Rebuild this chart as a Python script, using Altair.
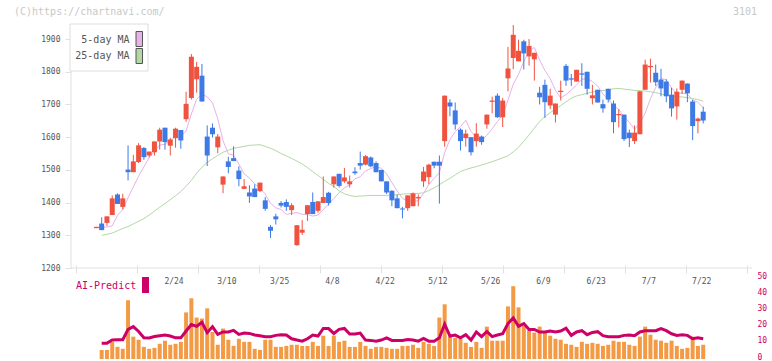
import altair as alt
import pandas as pd

# ---- daily candles (oldest first) ----
opens = [1322, 1336, 1338, 1362, 1425, 1387, 1501, 1493, 1524, 1567,
         1544, 1554, 1587, 1629, 1574, 1597, 1622, 1655, 1720, 1777,
         1788, 1602, 1629, 1569, 1455, 1526, 1536, 1498, 1442, 1431,
         1443, 1435, 1407, 1326, 1358, 1399, 1402, 1377, 1270, 1308,
         1365, 1402, 1375, 1399, 1430, 1456, 1488, 1465, 1456, 1495,
         1521, 1516, 1538, 1521, 1500, 1465, 1436, 1413, 1382, 1383,
         1389, 1413, 1465, 1478, 1525, 1525, 1588, 1706, 1682, 1623,
         1597, 1600, 1588, 1602, 1639, 1708, 1727, 1661, 1780, 1842,
         1832, 1893, 1847, 1838, 1736, 1760, 1697, 1669, 1738, 1818,
         1780, 1770, 1795, 1800, 1719, 1745, 1701, 1748, 1703, 1667,
         1669, 1614, 1588, 1609, 1745, 1814, 1797, 1776, 1770, 1730,
         1694, 1745, 1764, 1709, 1649, 1678]

highs = [1326, 1355, 1358, 1422, 1428, 1427, 1575, 1546, 1582, 1570,
         1556, 1587, 1629, 1629, 1598, 1629, 1622, 1739, 1854, 1830,
         1824, 1636, 1642, 1610, 1480, 1540, 1572, 1511, 1472, 1453,
         1456, 1461, 1417, 1331, 1366, 1405, 1410, 1398, 1331, 1347,
         1392, 1431, 1404, 1480, 1433, 1480, 1488, 1506, 1483, 1508,
         1556, 1545, 1541, 1526, 1500, 1465, 1438, 1425, 1387, 1422,
         1431, 1425, 1509, 1519, 1525, 1544, 1727, 1716, 1706, 1627,
         1623, 1600, 1643, 1605, 1669, 1724, 1734, 1720, 1876, 1943,
         1898, 1898, 1900, 1858, 1754, 1776, 1748, 1703, 1773, 1824,
         1793, 1806, 1826, 1800, 1760, 1745, 1715, 1748, 1712, 1686,
         1669, 1623, 1636, 1742, 1837, 1840, 1822, 1809, 1777, 1751,
         1749, 1773, 1764, 1714, 1660, 1693]

lows = [1322, 1316, 1329, 1362, 1396, 1379, 1468, 1493, 1521, 1531,
        1538, 1544, 1562, 1562, 1544, 1568, 1565, 1647, 1715, 1736,
        1709, 1512, 1599, 1551, 1429, 1490, 1527, 1450, 1442, 1399,
        1417, 1432, 1375, 1292, 1333, 1385, 1375, 1362, 1268, 1301,
        1344, 1365, 1369, 1399, 1391, 1446, 1446, 1460, 1446, 1485,
        1501, 1514, 1508, 1493, 1465, 1426, 1389, 1383, 1352, 1375,
        1389, 1389, 1448, 1456, 1505, 1397, 1571, 1664, 1623, 1559,
        1571, 1544, 1571, 1577, 1626, 1673, 1659, 1631, 1740, 1808,
        1832, 1807, 1819, 1773, 1700, 1659, 1686, 1645, 1712, 1757,
        1757, 1770, 1757, 1730, 1700, 1706, 1675, 1706, 1612, 1630,
        1588, 1570, 1579, 1609, 1745, 1767, 1757, 1725, 1707, 1663,
        1654, 1732, 1707, 1591, 1612, 1642]

closes = [1326, 1316, 1358, 1413, 1396, 1413, 1493, 1526, 1575, 1539,
          1556, 1587, 1623, 1585, 1593, 1626, 1590, 1702, 1846, 1815,
          1709, 1544, 1609, 1602, 1480, 1509, 1527, 1472, 1450, 1419,
          1417, 1461, 1381, 1314, 1349, 1391, 1387, 1392, 1331, 1317,
          1392, 1365, 1404, 1417, 1399, 1480, 1451, 1477, 1465, 1490,
          1513, 1542, 1511, 1493, 1465, 1431, 1407, 1383, 1379, 1422,
          1428, 1417, 1495, 1516, 1513, 1513, 1727, 1694, 1639, 1588,
          1611, 1554, 1611, 1585, 1669, 1712, 1661, 1712, 1810, 1913,
          1864, 1856, 1879, 1858, 1722, 1707, 1727, 1703, 1742, 1773,
          1776, 1806, 1791, 1748, 1728, 1706, 1688, 1715, 1646, 1671,
          1594, 1597, 1614, 1740, 1822, 1818, 1768, 1749, 1725, 1688,
          1739, 1773, 1734, 1634, 1657, 1651]

# ---- moving averages ----
ma5 = [1324, 1324, 1326, 1329, 1361, 1379, 1415, 1448, 1481, 1509,
       1538, 1557, 1576, 1578, 1589, 1603, 1603, 1619, 1671, 1716,
       1732, 1723, 1705, 1656, 1589, 1549, 1545, 1518, 1488, 1475,
       1457, 1444, 1426, 1398, 1384, 1379, 1364, 1367, 1370, 1364,
       1364, 1359, 1362, 1379, 1395, 1413, 1430, 1445, 1454, 1473,
       1479, 1497, 1504, 1510, 1505, 1488, 1461, 1436, 1413, 1405,
       1404, 1406, 1428, 1455, 1474, 1491, 1553, 1593, 1617, 1632,
       1652, 1617, 1601, 1590, 1606, 1626, 1648, 1668, 1713, 1762,
       1792, 1831, 1864, 1874, 1836, 1804, 1779, 1743, 1720, 1730,
       1744, 1760, 1777, 1779, 1770, 1756, 1732, 1717, 1697, 1685,
       1663, 1645, 1624, 1643, 1673, 1718, 1752, 1779, 1776, 1750,
       1734, 1735, 1732, 1714, 1707, 1690]

ma25 = [None, 1300, 1303, 1307, 1314, 1321, 1327, 1335, 1343, 1351,
        1362, 1374, 1386, 1397, 1409, 1421, 1434, 1450, 1468, 1490,
        1508, 1523, 1534, 1544, 1554, 1560, 1566, 1569, 1572, 1575,
        1576, 1577, 1572, 1566, 1559, 1550, 1543, 1535, 1527, 1518,
        1507, 1495, 1483, 1471, 1459, 1449, 1436, 1427, 1422, 1419,
        1420, 1421, 1422, 1422, 1422, 1422, 1423, 1424, 1426, 1427,
        1428, 1428, 1430, 1437, 1445, 1455, 1465, 1474, 1485, 1495,
        1501, 1506, 1510, 1515, 1520, 1525, 1531, 1537, 1543, 1555,
        1569, 1588, 1607, 1628, 1648, 1663, 1675, 1686, 1697, 1708,
        1719, 1726, 1730, 1734, 1738, 1741, 1743, 1745, 1748, 1749,
        1747, 1745, 1743, 1742, 1741, 1739, 1736, 1732, 1729, 1726,
        1724, 1723, 1721, 1718, 1715, 1710]

# ---- lower panel: volume bars and AI-Predict line ----
volume = [None, 5.6, 5.6, 10.6, 7.5, 6.3, 36.3, 13.8, 11.9, 7.5,
          6.3, 6.9, 9.4, 11.3, 8.8, 9.4, 10.6, 28.8, 37.5, 25.6,
          25.0, 31.3, 16.7, 8.8, 18.8, 11.9, 8.1, 12.5, 10.6, 10.6,
          6.3, 5.6, 11.9, 11.9, 7.5, 7.5, 8.1, 8.8, 8.8, 8.1,
          8.1, 10.6, 8.1, 14.4, 8.1, 14.4, 10.6, 11.3, 7.5, 7.5,
          10.6, 8.1, 6.3, 7.5, 7.5, 6.9, 6.3, 6.3, 8.1, 8.1,
          8.8, 6.9, 10.6, 9.4, 8.1, 25.6, 33.8, 13.8, 13.1, 12.5,
          10.0, 7.5, 10.6, 6.9, 20.0, 11.3, 11.3, 11.3, 32.5, 45.0,
          31.9, 20.6, 17.7, 16.3, 20.0, 16.3, 14.4, 12.5, 11.9, 9.4,
          8.8, 7.5, 10.6, 9.4, 10.0, 9.4, 8.1, 8.8, 11.3, 10.6,
          10.6, 8.8, 8.1, 13.8, 20.0, 15.0, 11.9, 11.3, 10.0, 11.3,
          8.1, 6.3, 6.9, 13.8, 8.1, 8.8]

ai_predict = [None, 9.8, 9.8, 11.7, 11.9, 11.9, 18.3, 20.0, 17.0, 13.1,
              13.0, 13.9, 14.4, 14.8, 14.2, 13.1, 13.1, 17.3, 21.3, 20.2,
              22.7, 16.3, 20.0, 15.2, 16.7, 16.7, 17.7, 15.2, 16.0, 15.8,
              14.8, 14.4, 13.8, 13.8, 14.6, 15.0, 14.8, 12.5, 11.7, 11.0,
              12.5, 14.8, 14.2, 18.9, 18.8, 15.8, 18.3, 18.9, 15.4, 15.4,
              16.0, 11.7, 11.5, 11.0, 11.7, 13.1, 11.5, 11.5, 11.5, 12.0,
              11.7, 11.0, 12.7, 11.0, 11.0, 13.1, 21.5, 14.2, 14.8, 13.1,
              15.0, 11.7, 16.7, 13.8, 17.0, 13.8, 14.8, 15.6, 21.9, 25.4,
              20.2, 21.9, 18.3, 18.3, 16.7, 16.7, 17.3, 16.7, 17.3, 19.0,
              14.6, 16.7, 17.5, 15.0, 16.4, 16.9, 14.4, 13.8, 13.8, 13.8,
              14.6, 14.8, 14.4, 16.7, 17.5, 17.5, 17.5, 18.8, 17.5, 15.6,
              14.6, 15.0, 14.6, 12.5, 13.1, 12.5]

# ---- axis labels ----
date_ticks = [15, 25, 35, 45, 55, 65, 75, 85, 95, 105, 115]
date_labels = ["2/24", "3/10", "3/25", "4/8", "4/22", "5/12",
               "5/26", "6/9", "6/23", "7/7", "7/22"]
price_ticks = [1200, 1300, 1400, 1500, 1600, 1700, 1800, 1900]
ai_ticks = [0, 10, 20, 30, 40, 50]

# ---- styling ----
UP = "#ef5340"
DOWN = "#3d7ae6"
MA5_COLOR = "#e6b2ea"
MA25_COLOR = "#b2d9a4"
BAR_COLOR = "#f39a45"
AI_COLOR = "#cc0066"
AXIS_GRAY = "#e0e0e0"
TEXT_GRAY = "#555555"
MONO = "DejaVu Sans Mono"

W, H = 681, 335
X_LO, X_HI = -3.866, 123.30
PRICE_DOMAIN = [922, 1946]
AI_DOMAIN = [0, 207]

df = pd.DataFrame({
    "idx": list(range(len(opens))),
    "open": opens, "high": highs, "low": lows, "close": closes,
    "ma5": ma5, "ma25": ma25, "volume": volume, "ai": ai_predict,
})
df["color"] = [UP if c >= o else DOWN for o, c in zip(opens, closes)]

# x ticks split the frame into 11 equal parts
grid_ticks = [X_LO + k * (X_HI - X_LO) / 11 for k in range(12)]

x_scale = alt.Scale(domain=[X_LO, X_HI], nice=False, zero=False)
x_axis = alt.Axis(values=grid_ticks, labels=False, domain=False, grid=False,
                  tickSize=8, tickColor=AXIS_GRAY, offset=-94, title=None)
px = alt.X("idx:Q", scale=x_scale, axis=x_axis)

price_scale = alt.Scale(domain=PRICE_DOMAIN, nice=False, zero=False)
price_axis = alt.Axis(values=price_ticks, orient="left", domain=False, grid=False,
                      format="d", tickSize=6, tickColor=AXIS_GRAY, labelFont=MONO,
                      labelFontSize=8, labelColor=TEXT_GRAY, labelPadding=5,
                      title=None)


def py(field):
    return alt.Y(f"{field}:Q", scale=price_scale, axis=price_axis)


ai_scale = alt.Scale(domain=AI_DOMAIN, nice=False, zero=True)
ai_axis = alt.Axis(values=ai_ticks, orient="right", domain=False, grid=False,
                   format="d", ticks=False, tickSize=0, labelFont=MONO,
                   labelFontSize=8, labelColor=AI_COLOR, labelPadding=5,
                   labelOffset=-2, title=None)


def ly(field):
    return alt.Y(f"{field}:Q", scale=ai_scale, axis=ai_axis)


base = alt.Chart(df)
frame = alt.Chart(pd.DataFrame({"lo": [1200], "hi": [1946]}))

# price panel
y_line = frame.mark_rule(color=AXIS_GRAY, strokeWidth=1).encode(
    x=alt.value(0), y=py("hi"), y2="lo")
x_line = frame.mark_rule(color=AXIS_GRAY, strokeWidth=1).encode(
    y=py("lo"), x=alt.value(0), x2=alt.value(W))
ma25_line = base.mark_line(color=MA25_COLOR, strokeWidth=1).encode(x=px, y=py("ma25"))
ma5_line = base.mark_line(color=MA5_COLOR, strokeWidth=1).encode(x=px, y=py("ma5"))
wicks = base.mark_rule(strokeWidth=1).encode(
    x=px, y=py("low"), y2="high", color=alt.Color("color:N", scale=None))
bodies = base.mark_bar(size=5).encode(
    x=px, y=py("open"), y2="close", color=alt.Color("color:N", scale=None))

price_panel = alt.layer(y_line, x_line, ma25_line, ma5_line, wicks, bodies)

# lower panel
vol_bars = base.mark_bar(size=4, color=BAR_COLOR).encode(x=px, y=ly("volume"))
ai_line = base.mark_line(color=AI_COLOR, strokeWidth=3).encode(x=px, y=ly("ai"))
lower_panel = alt.layer(vol_bars, ai_line)

# date labels between the panels
dates = alt.Chart(pd.DataFrame({"idx": date_ticks, "label": date_labels})).mark_text(
    font=MONO, fontSize=8, color=TEXT_GRAY, baseline="middle", dx=-1.5
).encode(x=px, y=alt.value(258), text="label:N")

one = alt.Chart(pd.DataFrame({"k": [0]}))

# moving-average legend box
legend_box = one.mark_rect(fill="white", stroke="#dddddd", strokeWidth=1).encode(
    x=alt.value(-1), x2=alt.value(77), y=alt.value(0), y2=alt.value(47))
legend_text = alt.Chart(pd.DataFrame({
    "label": ["5-day MA", "25-day MA"], "row": [15.5, 32.0]})).mark_text(
    font=MONO, fontSize=10, color=TEXT_GRAY, align="right", baseline="middle"
).encode(x=alt.value(58.5), y=alt.Y("row:Q", scale=None), text="label:N")
swatch5 = one.mark_rect(fill=MA5_COLOR, stroke=TEXT_GRAY, strokeWidth=1).encode(
    x=alt.value(65), x2=alt.value(71.5), y=alt.value(7.5), y2=alt.value(22.5))
swatch25 = one.mark_rect(fill=MA25_COLOR, stroke=TEXT_GRAY, strokeWidth=1).encode(
    x=alt.value(65), x2=alt.value(71.5), y=alt.value(24.5), y2=alt.value(39.5))

# AI-Predict key
ai_text = one.mark_text(font=MONO, fontSize=10, color=AI_COLOR, align="left",
                        baseline="middle").encode(
    x=alt.value(5), y=alt.value(262), text=alt.value("AI-Predict"))
ai_swatch = one.mark_rect(fill=AI_COLOR).encode(
    x=alt.value(71), x2=alt.value(78), y=alt.value(253), y2=alt.value(269))

# header texts
credit = one.mark_text(font=MONO, fontSize=10, color="#c8c8c8", align="left",
                       baseline="middle").encode(
    x=alt.value(-57), y=alt.value(-12), text=alt.value("(C)https://chartnavi.com/"))
code = one.mark_text(font=MONO, fontSize=10, color="#c8c8c8", align="right",
                     baseline="middle").encode(
    x=alt.value(686), y=alt.value(-12), text=alt.value("3101"))

chart = alt.layer(
    price_panel, lower_panel, dates,
    legend_box, legend_text, swatch5, swatch25,
    ai_text, ai_swatch, credit, code,
).resolve_scale(y="independent").properties(
    width=W, height=H,
    padding={"left": 71, "top": 24, "right": 20, "bottom": 2},
    autosize=alt.AutoSizeParams(type="none"),
    background="white",
).configure_view(stroke=None)

chart.save("out.html", embed_options={"renderer": "svg", "actions": False})
